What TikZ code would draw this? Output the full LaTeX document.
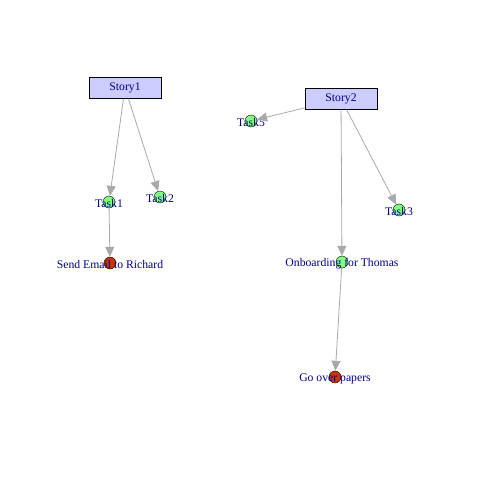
\documentclass[tikz,border=0pt]{standalone}
\usepackage{fontspec}
\setmainfont{Liberation Serif}
\usetikzlibrary{arrows.meta}
\definecolor{storyfill}{HTML}{CCCCFF}
\definecolor{labelblue}{HTML}{00008B}
\definecolor{taskgreen}{HTML}{80FF80}
\definecolor{subred}{HTML}{CC3300}
\definecolor{edgegray}{HTML}{A9A9A9}
\begin{document}
\begin{tikzpicture}[x=1pt,y=-1pt,
	story/.style={draw,fill=storyfill,minimum width=72pt,minimum height=21pt,inner sep=0pt,
		font=\fontsize{11.7}{12}\selectfont,text=labelblue},
	task/.style={circle,draw,fill=taskgreen,minimum size=12pt,inner sep=0pt,
		label={[font=\fontsize{11.7}{12}\selectfont,text=labelblue,inner sep=0pt,yshift=-1.5pt]center:#1}},
	subtask/.style={task=#1,fill=subred},
	link/.style={draw=edgegray,line width=0.8pt,-{Triangle[length=10pt,width=9pt]}}]
	\useasboundingbox (0,0) rectangle (480,480);
	% first story
	\node[story] (story1) at (125,88) {Story1};
	\node[task=Task1] (task1) at (109,202) {};
	\node[task=Task2] (task2) at (160,197) {};
	\node[subtask=Send Email to Richard] (email) at (110,263) {};
	% second story
	\node[story] (story2) at (341,99) {Story2};
	\node[task=Task5] (task5) at (251,121) {};
	\node[task=Task3] (task3) at (399,210) {};
	\node[task=Onboarding for Thomas] (onboard) at (342,262) {};
	\node[subtask=Go over papers] (papers) at (335,377) {};
	% links
	\draw[link] (story1) -- (task1);
	\draw[link] (story1) -- (task2);
	\draw[link] (task1) -- (email);
	\draw[link] (story2) -- (task5);
	\draw[link] (story2) -- (task3);
	\draw[link] (story2) -- (onboard);
	\draw[link] (onboard) -- (papers);
\end{tikzpicture}
\end{document}
